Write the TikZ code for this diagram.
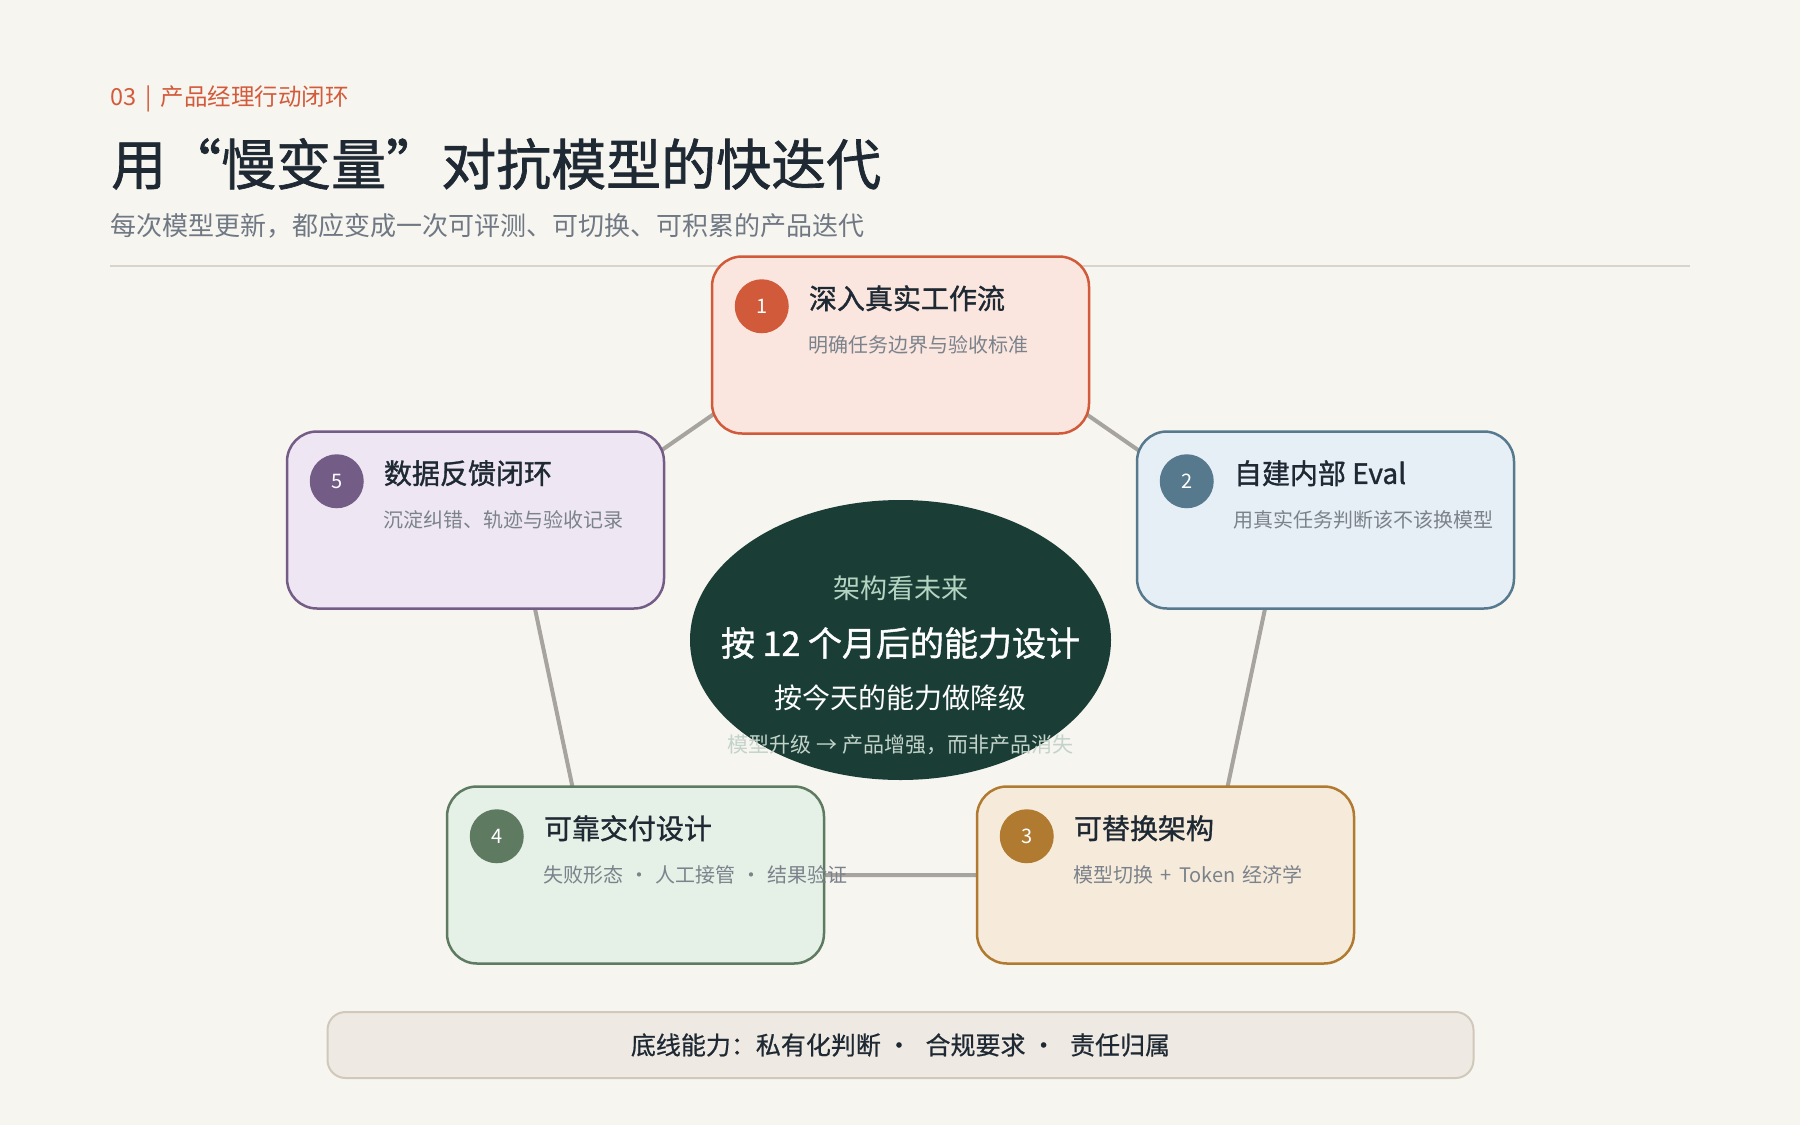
\documentclass[tikz,border=0pt]{standalone}
\usepackage{fontspec}
\setmainfont{Noto Sans CJK SC}
\newfontfamily\halfvet{Noto Sans CJK SC}[FakeBold=1.2]
\newfontfamily\licht{Noto Sans CJK SC}[FakeBold=0.6]
\usetikzlibrary{shapes.geometric,positioning}

\definecolor{achter}{HTML}{F7F5F0}
\definecolor{oranje}{HTML}{D35B3B}
\definecolor{inkt}{HTML}{1F2933}
\definecolor{grijs}{HTML}{6F7883}
\definecolor{zacht}{HTML}{7B828B}
\definecolor{regel}{HTML}{D8D4CC}
\definecolor{verbind}{HTML}{A7A39E}
\definecolor{rood}{HTML}{D05A3A}
\definecolor{roodlicht}{HTML}{FAE6DF}
\definecolor{blauw}{HTML}{56798D}
\definecolor{blauwlicht}{HTML}{E7EFF6}
\definecolor{oker}{HTML}{B07B30}
\definecolor{okerlicht}{HTML}{F6EBDA}
\definecolor{groen}{HTML}{5E7B62}
\definecolor{groenlicht}{HTML}{E5F0E6}
\definecolor{paars}{HTML}{735C86}
\definecolor{paarslicht}{HTML}{EEE7F3}
\definecolor{donker}{HTML}{1A3E36}
\definecolor{mint}{HTML}{B5D5C3}
\definecolor{voet}{HTML}{C3D3CA}
\definecolor{balk}{HTML}{EEEAE3}
\definecolor{balkrand}{HTML}{D0C9BB}

\begin{document}
\begin{tikzpicture}[x=1pt, y=-1pt]
  \tikzset{
    blok/.style={line width=2.5pt, rounded corners=30pt, minimum width=377pt, minimum height=177pt},
    nummer/.style={circle, minimum size=54pt, inner sep=0pt, text=white, font=\fontsize{20}{24}\selectfont},
    kop/.style={anchor=west, inner sep=0pt, text=inkt, font=\fontsize{28}{32}\selectfont\halfvet},
    onder/.style={anchor=west, inner sep=0pt, text=zacht, font=\fontsize{20}{24}\selectfont},
    lijn/.style={line width=4pt, color=verbind}
  }

  \path[use as bounding box, fill=achter] (0,0) rectangle (1800,1125);

  % Kop
  \node[anchor=west, inner sep=0pt, text=oranje, font=\fontsize{23.5}{26}\selectfont] (sectie) at (110,99) {03\hspace{9pt}|\hspace{9pt}产品经理行动闭环};
  \node[anchor=west, inner sep=0pt, text=inkt, font=\fontsize{55}{62}\selectfont\halfvet] (titel) at (111,164) {用“慢变量”对抗模型的快迭代};
  \node[anchor=west, inner sep=0pt, text=grijs, font=\fontsize{26}{30}\selectfont] (ondertitel) at (110,226) {每次模型更新，都应变成一次可评测、可切换、可积累的产品迭代};
  \draw[line width=2pt, regel] (110,266) -- (1690,266);

  % Verbindingen
  \coordinate (k1) at (900,285);
  \coordinate (k2) at (1278,547);
  \coordinate (k3) at (1209,875);
  \coordinate (k4) at (591,875);
  \coordinate (k5) at (522,547);
  \draw[lijn] (k1) -- (k2) -- (k3) -- (k4) -- (k5) -- cycle;

  % --- 1 ---
  \node[blok, draw=rood, fill=roodlicht] (b1) at (900.5,345) {};
  \node[nummer, fill=rood] (n1) at ([shift={(51,51)}]b1.north west) {1};
  \node[kop] (t1) at ([shift={(98,43)}]b1.north west) {深入真实工作流};
  \node[onder] (s1) at ([shift={(98,90)}]b1.north west) {明确任务边界与验收标准};

  % --- 2 ---
  \node[blok, draw=blauw, fill=blauwlicht] (b2) at (1325.5,520) {};
  \node[nummer, fill=blauw] (n2) at ([shift={(51,51)}]b2.north west) {2};
  \node[kop] (t2) at ([shift={(98,43)}]b2.north west) {自建内部 Eval};
  \node[onder] (s2) at ([shift={(98,90)}]b2.north west) {用真实任务判断该不该换模型};

  % --- 3 ---
  \node[blok, draw=oker, fill=okerlicht] (b3) at (1165.5,875) {};
  \node[nummer, fill=oker] (n3) at ([shift={(51,51)}]b3.north west) {3};
  \node[kop] (t3) at ([shift={(98,43)}]b3.north west) {可替换架构};
  \node[onder] (s3) at ([shift={(98,90)}]b3.north west) {模型切换\hspace{7pt}+\hspace{7pt}Token\hspace{7pt}经济学};

  % --- 4 ---
  \node[blok, draw=groen, fill=groenlicht] (b4) at (635.5,875) {};
  \node[nummer, fill=groen] (n4) at ([shift={(51,51)}]b4.north west) {4};
  \node[kop] (t4) at ([shift={(98,43)}]b4.north west) {可靠交付设计};
  \node[onder] (s4) at ([shift={(98,90)}]b4.north west) {失败形态\hspace{6pt}·\hspace{6pt}人工接管\hspace{6pt}·\hspace{6pt}结果验证};

  % --- 5 ---
  \node[blok, draw=paars, fill=paarslicht] (b5) at (475.5,520) {};
  \node[nummer, fill=paars] (n5) at ([shift={(51,51)}]b5.north west) {5};
  \node[kop] (t5) at ([shift={(98,43)}]b5.north west) {数据反馈闭环};
  \node[onder] (s5) at ([shift={(98,90)}]b5.north west) {沉淀纠错、轨迹与验收记录};

  % Kern
  \node[ellipse, fill=donker, minimum width=421pt, minimum height=280pt, inner sep=0pt] (kern) at (900.5,640) {};
  \node[text=mint, font=\fontsize{27}{30}\selectfont] (r1) at ([shift={(0,-52)}]kern.center) {架构看未来};
  \node[text=white, font=\fontsize{34}{38}\selectfont\halfvet] (r2) at ([shift={(0,3)}]kern.center) {按 12 个月后的能力设计};
  \node[text=white, font=\fontsize{28}{32}\selectfont] (r3) at ([shift={(0,58)}]kern.center) {按今天的能力做降级};
  \node[text=voet, font=\fontsize{21}{24}\selectfont] (r4) at ([shift={(0,105)}]kern.center) {模型升级 → 产品增强，而非产品消失};

  % Basis
  \node[draw=balkrand, fill=balk, line width=2pt, rounded corners=18pt, minimum width=1146pt, minimum height=66pt, text=inkt, font=\fontsize{25}{28}\selectfont\licht] (basis) at (900.5,1045) {底线能力：私有化判断 ·\hspace{14pt}合规要求 ·\hspace{14pt}责任归属};
\end{tikzpicture}
\end{document}
